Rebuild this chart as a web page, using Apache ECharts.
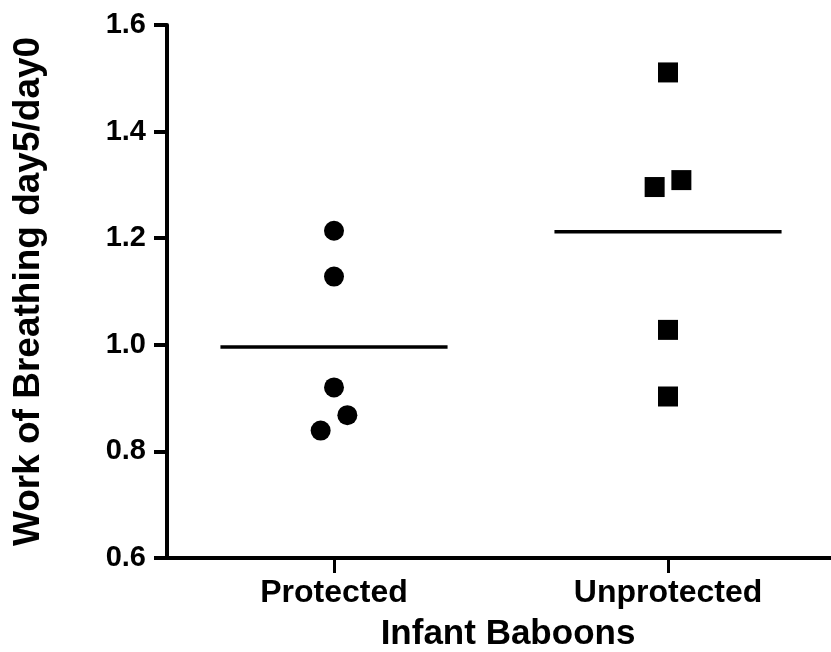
<!DOCTYPE html>
<html>
<head>
<meta charset="utf-8">
<script src="https://cdn.jsdelivr.net/npm/echarts@6/dist/echarts.min.js"></script>
<style>html,body{margin:0;padding:0;background:#fff;}#chart{width:831px;height:652px;}</style>
</head>
<body>
<div id="chart"></div>
<script>
const categories = ['Protected', 'Unprotected'];
const protectedValues = [1.214, 1.128, 0.920, 0.868, 0.839];
const protectedJitter = [0, 0, 0, 0.04, -0.04];
const unprotectedValues = [1.511, 1.296, 1.309, 1.028, 0.903];
const unprotectedJitter = [0, -0.04, 0.04, 0, 0];
const meanValues = [0.996, 1.212];
const yTickValues = [0.6, 0.8, 1.0, 1.2, 1.4, 1.6];
const xTitle = 'Infant Baboons';
const yTitle = 'Work of Breathing day5/day0';

const FONT = "'Liberation Sans', Arial, sans-serif";
const catPos = categories.map((c, i) => i + 1);
const meanHalf = 0.34;

const chart = echarts.init(document.getElementById('chart'), null, {renderer: 'canvas'});
const meanSeries = meanValues.map((m, i) => ({
  type: 'line',
  name: categories[i] + ' mean',
  data: [[catPos[i] - meanHalf, m], [catPos[i] + meanHalf, m]],
  symbol: 'none',
  lineStyle: {color: '#000', width: 3.5},
  silent: true,
  z: 3
}));

chart.setOption({
  animation: false,
  backgroundColor: '#fff',
  grid: {left: 167, right: 0, top: 25, bottom: 94, containLabel: false, outerBoundsMode: 'none'},
  xAxis: {
    type: 'value',
    min: 0.5,
    max: 2.488,
    name: xTitle,
    nameLocation: 'middle',
    nameGap: 59,
    nameTextStyle: {fontFamily: FONT, fontSize: 35, fontWeight: 'bold', color: '#000', padding: [0, 0, 0, 18]},
    axisLine: {show: true, lineStyle: {color: '#000', width: 4}},
    axisTick: {show: true, customValues: catPos, length: 15, lineStyle: {color: '#000', width: 3}},
    axisLabel: {
      customValues: catPos,
      formatter: v => categories[Math.round(v) - 1],
      fontFamily: FONT, fontSize: 32, fontWeight: 'bold', color: '#000', margin: 19
    },
    splitLine: {show: false}
  },
  yAxis: {
    type: 'value',
    min: yTickValues[0],
    max: yTickValues[yTickValues.length - 1],
    interval: 0.2,
    name: yTitle,
    nameLocation: 'middle',
    nameGap: 120,
    nameRotate: 90,
    nameTextStyle: {fontFamily: FONT, fontSize: 37, fontWeight: 'bold', color: '#000'},
    axisLine: {show: true, lineStyle: {color: '#000', width: 4}},
    axisTick: {show: true, customValues: yTickValues, length: 13, lineStyle: {color: '#000', width: 4}},
    axisLabel: {
      customValues: yTickValues,
      formatter: v => v.toFixed(1),
      fontFamily: FONT, fontSize: 29, fontWeight: 'bold', color: '#000', margin: 21
    },
    splitLine: {show: false}
  },
  series: [
    {
      type: 'scatter',
      name: categories[0],
      data: protectedValues.map((v, i) => [catPos[0] + protectedJitter[i], v]),
      symbol: 'circle',
      symbolSize: 20,
      itemStyle: {color: '#000', opacity: 1},
      z: 4
    },
    {
      type: 'scatter',
      name: categories[1],
      data: unprotectedValues.map((v, i) => [catPos[1] + unprotectedJitter[i], v]),
      symbol: 'rect',
      symbolSize: 20,
      itemStyle: {color: '#000', opacity: 1},
      z: 4
    }
  ].concat(meanSeries)
});
</script>
</body>
</html>
